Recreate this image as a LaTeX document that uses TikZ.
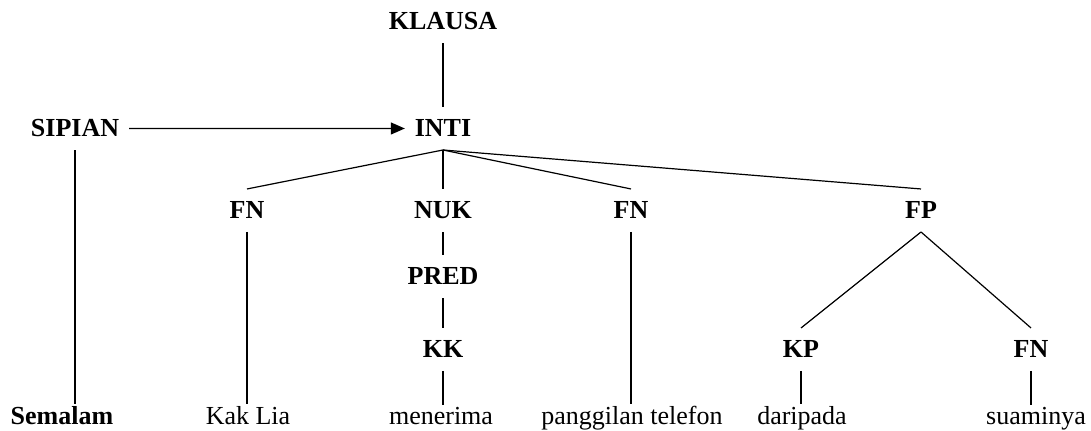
\documentclass[tikz,border=0pt]{standalone}
\usepackage{fontspec}
\setmainfont{Liberation Serif}
\usetikzlibrary{arrows.meta}

\begin{document}
\begin{tikzpicture}[x=0.5pt, y=-0.5pt, line width=0.6pt,
    every node/.style={font=\fontsize{13}{15}\selectfont, anchor=base, inner sep=0pt},
    lbl/.style={font=\fontsize{13}{15}\selectfont\bfseries, outer xsep=5pt, outer ysep=6.5pt},
    word/.style={outer sep=1.25pt}]
          \useasboundingbox (0,0) rectangle (1091,431);
          \node[lbl] (klausa) at (443,30) {KLAUSA};
          \node[lbl] (sipian) at (75,137) {SIPIAN};
          \node[lbl] (inti) at (443,137) {INTI};
          \node[lbl] (fnA) at (247,219) {FN};
          \node[lbl] (nuk) at (443,219) {NUK};
          \node[lbl] (fnB) at (631,219) {FN};
          \node[lbl] (fp) at (921,219) {FP};
          \node[lbl] (pred) at (443,285) {PRED};
          \node[lbl] (kk) at (443,358) {KK};
          \node[lbl] (kp) at (801,358) {KP};
          \node[lbl] (fnC) at (1031,358) {FN};
          \node[word] (semalam) at (62,425) {\textbf{Semalam}};
          \node[word] (kaklia) at (248,425) {Kak Lia};
          \node[word] (menerima) at (441,425) {menerima};
          \node[word] (panggilan) at (632,425) {panggilan telefon};
          \node[word] (daripada) at (802,425) {daripada};
          \node[word] (suaminya) at (1036,425) {suaminya};
          \draw (klausa) -- (inti);
          \draw[-{Triangle[length=7pt, width=6pt]}] (sipian) -- (inti);
          \draw (inti.south) -- (fnA.north);
          \draw (inti.south) -- (nuk.north);
          \draw (inti.south) -- (fnB.north);
          \draw (inti.south) -- (fp.north);
          \draw (sipian) -- (sipian |- semalam.north);
          \draw (fnA) -- (fnA |- kaklia.north);
          \draw (nuk) -- (pred);
          \draw (pred) -- (kk);
          \draw (kk) -- (kk |- menerima.north);
          \draw (fnB) -- (fnB |- panggilan.north);
          \draw (fp.south) -- (kp.north);
          \draw (fp.south) -- (fnC.north);
          \draw (kp) -- (kp |- daripada.north);
          \draw (fnC) -- (fnC |- suaminya.north);
        \end{tikzpicture}
\end{document}
